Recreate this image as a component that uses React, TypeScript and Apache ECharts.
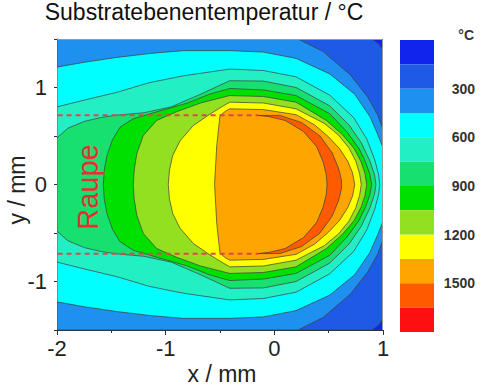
import { useEffect, useRef } from 'react';
import * as echarts from 'echarts';

// ---- data ----
const LEVELS = [0, 150, 300, 450, 600, 750, 900, 1050, 1200, 1350, 1500, 1650, 1800];
const LEVEL_COLORS = [
  '#1024ee', '#1e5ae6', '#1e90f0', '#00ffff', '#22f0c4', '#18e070',
  '#00e000', '#92e020', '#ffff00', '#ffa500', '#ff5a00', '#ff1010',
];
const COLORBAR_LABELS = [300, 600, 900, 1200, 1500];
const X_RANGE = [-2, 1];
const Y_RANGE = [-1.5, 1.5];
const BEAD_EDGE = 0.715;
const BEAD_LINE_X = [-2.16, -0.15];

// upper halves of the isotherms (x / mm, y / mm); the field is mirror-symmetric about y = 0
const C150 = [[-2, 1.5], [0.9, 1.5], [0.96, 1.45], [1, 1.39]];
const C300 = [[-2, 1.5], [0.22, 1.5], [0.45, 1.37], [0.7, 1.13], [0.86, 0.9], [0.95, 0.72], [1, 0.57]];
const C450 = [[-2, 1.21], [-1.75, 1.26], [-1.45, 1.31], [-1.15, 1.35], [-0.84, 1.38], [-0.41, 1.38], [-0.1, 1.365], [0.2, 1.3], [0.51, 1.14], [0.74, 0.93], [0.88, 0.7], [0.95, 0.52], [1, 0.38]];
const C600 = [[-2, 0.8], [-1.75, 0.87], [-1.45, 0.95], [-1.15, 1.05], [-0.84, 1.12], [-0.41, 1.19], [-0.1, 1.175], [0.2, 1.11], [0.51, 0.92], [0.73, 0.69], [0.85, 0.47], [0.925, 0.25], [0.96, 0.1], [0.97, 0]];
const C750 = [[-2, 0.48], [-1.9, 0.58], [-1.75, 0.65], [-1.6, 0.69], [-1.45, 0.715], [-1.2, 0.74], [-0.95, 0.8], [-0.7, 0.92], [-0.41, 1.07], [-0.1, 1.066], [0.2, 1.0], [0.51, 0.81], [0.69, 0.61], [0.8, 0.43], [0.88, 0.24], [0.922, 0.1], [0.935, 0]];
const C900 = [[-1.574, 0], [-1.565, 0.15], [-1.54, 0.3], [-1.49, 0.46], [-1.42, 0.59], [-1.3, 0.677], [-1.08, 0.75], [-0.8, 0.84], [-0.6, 0.93], [-0.41, 0.99], [-0.1, 0.975], [0.2, 0.917], [0.51, 0.73], [0.67, 0.54], [0.78, 0.37], [0.84, 0.23], [0.88, 0.1], [0.895, 0]];
const C1050 = [[-1.298, 0], [-1.29, 0.15], [-1.265, 0.32], [-1.206, 0.505], [-1.083, 0.66], [-0.9, 0.75], [-0.68, 0.84], [-0.41, 0.917], [-0.1, 0.907], [0.2, 0.849], [0.48, 0.66], [0.63, 0.51], [0.735, 0.37], [0.8, 0.23], [0.835, 0.11], [0.85, 0]];
const C1200 = [[-0.976, 0], [-0.965, 0.15], [-0.935, 0.3], [-0.868, 0.45], [-0.746, 0.608], [-0.6, 0.72], [-0.5, 0.79], [-0.41, 0.849], [-0.1, 0.84], [0.2, 0.78], [0.46, 0.63], [0.59, 0.51], [0.685, 0.38], [0.75, 0.24], [0.785, 0.11], [0.8, 0]];
const C1350 = [[-0.55, 0], [-0.53, 0.4], [-0.5, 0.71], [-0.45, 0.755], [-0.41, 0.78], [-0.1, 0.772], [0.2, 0.72], [0.37, 0.615], [0.5, 0.49], [0.6, 0.37], [0.675, 0.24], [0.72, 0.12], [0.74, 0]];
const CRESCENT_OUTER = [[-0.15, 0.712], [0.05, 0.712], [0.25, 0.64], [0.42, 0.5], [0.53, 0.33], [0.59, 0.17], [0.615, 0.06], [0.62, 0]];
const CRESCENT_INNER = [[-0.05, 0.7], [0.1, 0.66], [0.27, 0.545], [0.39, 0.39], [0.45, 0.23], [0.478, 0.1], [0.485, 0]];

type P = number[];
function mirror(upper: P[]): P[] {
  const lower = upper.slice().reverse().filter((p) => p[1] !== 0).map((p) => [p[0], -p[1]]);
  return upper.concat(lower);
}
function crescent(): P[] {
  const outer = mirror(CRESCENT_OUTER);
  const innerLower = CRESCENT_INNER.map((p) => [p[0], -p[1]]);
  const innerUpper = CRESCENT_INNER.slice().reverse().filter((p) => p[1] !== 0);
  return outer.concat(innerLower, innerUpper);
}

const RECT: P[] = [[X_RANGE[0], Y_RANGE[1]], [X_RANGE[1], Y_RANGE[1]], [X_RANGE[1], Y_RANGE[0]], [X_RANGE[0], Y_RANGE[0]]];
const POLYS: { pts: P[]; band: number }[] = [
  { pts: RECT, band: 0 },
  { pts: mirror(C150), band: 1 },
  { pts: mirror(C300), band: 2 },
  { pts: mirror(C450), band: 3 },
  { pts: mirror(C600), band: 4 },
  { pts: mirror(C750), band: 5 },
  { pts: mirror(C900), band: 6 },
  { pts: mirror(C1050), band: 7 },
  { pts: mirror(C1200), band: 8 },
  { pts: mirror(C1350), band: 9 },
  { pts: crescent(), band: 10 },
];

const FONT = '"Liberation Sans", Arial, Helvetica, sans-serif';

export default function App() {
  const ref = useRef<HTMLDivElement>(null);
  useEffect(() => {
    if (!ref.current) return;
    const chart = echarts.init(ref.current, undefined, { renderer: 'svg' });
    const axisColor = '#333';
    const option: any = {
      animation: false,
      backgroundColor: '#ffffff',
      textStyle: { fontFamily: FONT },
      grid: [
        { left: 57, top: 39, width: 326, height: 291 },
        { left: 57, top: 87.5, width: 326, height: 194 },
        { left: 400, top: 40, width: 34, height: 292 },
      ],
      xAxis: [
        {
          gridIndex: 0, type: 'value', min: X_RANGE[0], max: X_RANGE[1], interval: 1,
          axisLine: { show: true, onZero: false, lineStyle: { color: axisColor, width: 1 } },
          axisTick: { show: true, length: 5, lineStyle: { color: axisColor } },
          minorTick: { show: true, splitNumber: 2, length: 3, lineStyle: { color: axisColor } },
          splitLine: { show: false }, minorSplitLine: { show: false },
          axisLabel: { fontSize: 22, color: '#222', margin: 7, fontFamily: FONT },
        },
        { gridIndex: 1, type: 'value', min: X_RANGE[0], max: X_RANGE[1], show: false },
        { gridIndex: 2, type: 'value', min: 0, max: 1, show: false },
      ],
      yAxis: [
        {
          gridIndex: 0, type: 'value', min: Y_RANGE[0], max: Y_RANGE[1], interval: 0.5,
          axisLine: { show: true, onZero: false, lineStyle: { color: axisColor, width: 1 } },
          axisTick: { show: true, length: 3, lineStyle: { color: axisColor } },
          axisLabel: { show: false }, splitLine: { show: false },
        },
        {
          gridIndex: 1, type: 'value', min: -1, max: 1, interval: 1,
          axisLine: { show: false },
          axisTick: { show: true, length: 6, lineStyle: { color: axisColor } },
          axisLabel: { fontSize: 22, color: '#222', margin: 10, fontFamily: FONT },
          splitLine: { show: false },
        },
        {
          gridIndex: 2, type: 'value', min: LEVELS[0], max: LEVELS[LEVELS.length - 1], interval: 300,
          inverse: true, position: 'right',
          axisLine: { show: false }, axisTick: { show: false }, splitLine: { show: false },
          axisLabel: {
            formatter: (v: number) => (COLORBAR_LABELS.indexOf(v) >= 0 ? String(v) : ''),
            align: 'right', margin: 41, fontSize: 14, fontWeight: 'bold', color: '#333', fontFamily: FONT,
          },
        },
      ],
      series: [
        {
          type: 'custom', xAxisIndex: 0, yAxisIndex: 0, clip: true, silent: true, z: 1,
          data: POLYS.map((p, i) => [p.pts[0][0], p.pts[0][1], i]),
          renderItem: (params: any, api: any) => {
            const poly = POLYS[params.dataIndex];
            return {
              type: 'polygon',
              z2: params.dataIndex,
              shape: { points: poly.pts.map((pt) => api.coord(pt)) },
              style: { fill: LEVEL_COLORS[poly.band], stroke: '#3c3c3c', lineWidth: 0.7 },
            };
          },
        },
        {
          type: 'line', xAxisIndex: 0, yAxisIndex: 0, clip: false, silent: true, z: 5,
          symbol: 'none',
          data: [[BEAD_LINE_X[0], BEAD_EDGE], [BEAD_LINE_X[1], BEAD_EDGE]],
          lineStyle: { color: '#dc4a48', width: 2, type: [5, 4] },
        },
        {
          type: 'line', xAxisIndex: 0, yAxisIndex: 0, clip: false, silent: true, z: 5,
          symbol: 'none',
          data: [[BEAD_LINE_X[0], -BEAD_EDGE], [BEAD_LINE_X[1], -BEAD_EDGE]],
          lineStyle: { color: '#dc4a48', width: 2, type: [5, 4] },
        },
        {
          type: 'custom', xAxisIndex: 2, yAxisIndex: 2, silent: true,
          data: LEVEL_COLORS.map((_, i) => [LEVELS[i], LEVELS[i + 1], i]),
          renderItem: (params: any, api: any) => {
            const lo = api.value(0);
            const hi = api.value(1);
            const a = api.coord([0, lo]);
            const b = api.coord([1, hi]);
            return {
              type: 'rect',
              shape: { x: a[0], y: Math.min(a[1], b[1]), width: b[0] - a[0], height: Math.abs(b[1] - a[1]) },
              style: { fill: LEVEL_COLORS[params.dataIndex] },
            };
          },
        },
      ],
      graphic: [
        {
          type: 'text', x: 204, y: 12, z: 20,
          style: { text: 'Substratebenentemperatur / °C', font: `23px ${FONT}`, fill: '#111', align: 'center', verticalAlign: 'middle' },
        },
        {
          type: 'text', x: 222, y: 374, z: 20,
          style: { text: 'x / mm', font: `23px ${FONT}`, fill: '#222', align: 'center', verticalAlign: 'middle' },
        },
        {
          type: 'text', x: 17, y: 190, rotation: Math.PI / 2, z: 20,
          style: { text: 'y / mm', font: `23px ${FONT}`, fill: '#222', align: 'center', verticalAlign: 'middle' },
        },
        {
          type: 'text', x: 88, y: 187, rotation: Math.PI / 2, z: 20,
          style: { text: 'Raupe', font: `29px ${FONT}`, fill: '#e63030', align: 'center', verticalAlign: 'middle' },
        },
        {
          type: 'text', x: 474, y: 35, z: 20,
          style: { text: '°C', font: `bold 14px ${FONT}`, fill: '#333', align: 'right', verticalAlign: 'middle' },
        },
        {
          type: 'polyline', z: 20, silent: true,
          shape: { points: [[57, 39.5], [382.5, 39.5], [382.5, 330]] },
          style: { stroke: '#999', lineWidth: 1, fill: 'none' },
        },
      ],
    };
    chart.setOption(option);
    return () => chart.dispose();
  }, []);
  return (
    <div
      ref={ref}
      style={{ position: 'fixed', left: 0, top: 0, width: 480, height: 386, background: '#fff' }}
    />
  );
}
